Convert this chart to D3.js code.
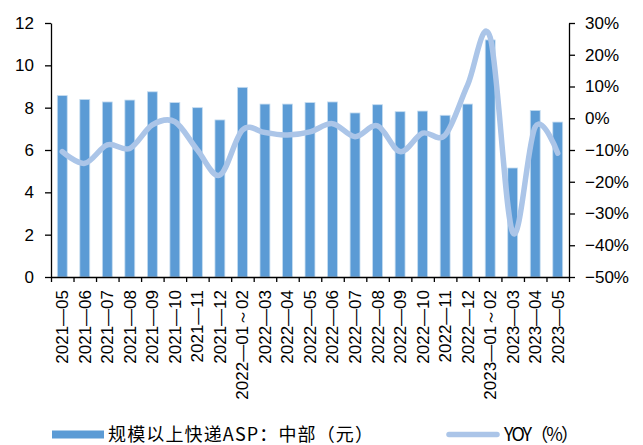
<!DOCTYPE html>
<html>
<head>
<meta charset="utf-8">
<script src="https://cdn.jsdelivr.net/npm/d3@7"></script>
<style>
  body { margin: 0; background: #fff; }
  svg { display: block; }
  .axis text { font-family: "Liberation Sans", Arial, sans-serif; font-size: 17px; fill: #000; }
  .axis path, .axis line { stroke: #000; stroke-width: 1.3; }
</style>
</head>
<body>
<div id="chart"></div>
<script>
var width = 643;
var height = 445;

// months on the x axis
var months = ['2021-05', '2021-06', '2021-07', '2021-08', '2021-09', '2021-10', '2021-11', '2021-12',
    '2022-01～02', '2022-03', '2022-04', '2022-05', '2022-06', '2022-07', '2022-08', '2022-09',
    '2022-10', '2022-11', '2022-12', '2023-01～02', '2023-03', '2023-04', '2023-05'];
// 规模以上快递ASP：中部（元）
var asp = [8.57, 8.39, 8.27, 8.36, 8.75, 8.24, 8.00, 7.42, 8.96, 8.17, 8.17, 8.24, 8.27, 7.75,
    8.14, 7.81, 7.84, 7.64, 8.17, 11.2, 5.15, 7.87, 7.32];
// YOY（%）
var yoy = [-10.5, -14.2, -8.4, -9.5, -2.1, -1.1, -10.0, -17.9, -3.7, -4.5, -5.3, -4.3, -1.7, -5.8,
    -2.4, -10.5, -4.7, -5.3, 10.5, 25.5, -36.0, -2.7, -11.0];
var leftTicks = [0, 2, 4, 6, 8, 10, 12];
var rightTicks = [30, 20, 10, 0, -10, -20, -30, -40, -50];

var plotLeft = 51, plotRight = 569, plotTop = 23, plotBottom = 277;

var svg = d3.select('#chart').append('svg')
    .attr('width', width)
    .attr('height', height);

var x = d3.scaleBand().domain(months).range([plotLeft, plotRight]).paddingInner(0.56).paddingOuter(0.28);
var xb = d3.scaleLinear().domain([0, months.length]).range([plotLeft, plotRight]);
var y = d3.scaleLinear().domain([0, 12]).range([plotBottom, plotTop]);
var y2 = d3.scaleLinear().domain([-50, 30]).range([plotBottom, plotTop]);

// bars
svg.append('g').selectAll('rect')
    .data(asp)
    .enter().append('rect')
    .attr('x', function(d, i) { return x(months[i]); })
    .attr('y', function(d) { return y(d); })
    .attr('width', x.bandwidth())
    .attr('height', function(d) { return y(0) - y(d); })
    .attr('fill', '#5b9bd5')
    .attr('stroke', '#c5dcf0')
    .attr('stroke-width', 0.8);

// yoy line
var line = d3.line()
    .x(function(d, i) { return x(months[i]) + x.bandwidth() / 2; })
    .y(function(d) { return y2(d); })
    .curve(d3.curveCatmullRom.alpha(0));

svg.append('path')
    .datum(yoy)
    .attr('d', line)
    .attr('fill', 'none')
    .attr('stroke', '#abc5e8')
    .attr('stroke-width', 5.5)
    .attr('stroke-linecap', 'round')
    .attr('stroke-linejoin', 'round');

// axes
svg.append('g')
    .attr('class', 'axis')
    .attr('transform', 'translate(' + plotLeft + ',0)')
    .call(d3.axisLeft(y).tickValues(leftTicks).tickSize(6).tickSizeOuter(0).tickPadding(11));

svg.append('g')
    .attr('class', 'axis')
    .attr('transform', 'translate(' + plotRight + ',0)')
    .call(d3.axisRight(y2).tickValues(rightTicks).tickSize(6).tickSizeOuter(0).tickPadding(10)
        .tickFormat(function(d) { return (d < 0 ? '\u2212' + Math.abs(d) : d) + '%'; }));

svg.append('g')
    .attr('class', 'axis')
    .attr('transform', 'translate(0,' + plotBottom + ')')
    .call(d3.axisBottom(xb).ticks(months.length).tickSize(5).tickSizeOuter(0).tickFormat(''));

svg.append('g')
    .attr('class', 'axis')
    .selectAll('text')
    .data(months)
    .enter().append('text')
    .attr('transform', function(d) {
        return 'translate(' + (x(d) + x.bandwidth() / 2) + ',' + (plotBottom + 13) + ') rotate(-90)';
    })
    .attr('text-anchor', 'end')
    .attr('dy', '0.35em')
    .text(function(d) { return d.replace('-', '\u2014'); });

// legend
var legend = svg.append('g')
    .style('font-family', '"Noto Sans CJK SC", sans-serif')
    .style('font-size', '18px');

legend.append('rect')
    .attr('x', 52).attr('y', 430.5)
    .attr('width', 52).attr('height', 8)
    .attr('fill', '#5b9bd5');
legend.append('text')
    .attr('x', 108).attr('y', 434.5)
    .attr('dy', '0.35em')
    .attr('textLength', 265)
    .text('规模以上快递ASP：中部（元）');

legend.append('line')
    .attr('x1', 449).attr('x2', 497)
    .attr('y1', 434.5).attr('y2', 434.5)
    .attr('stroke', '#abc5e8')
    .attr('stroke-width', 5.5)
    .attr('stroke-linecap', 'round');
legend.append('text')
    .attr('x', 504).attr('y', 434.5)
    .attr('dy', '0.35em')
    .attr('textLength', 75)
    .text('YOY（%）');
</script>
</body>
</html>
